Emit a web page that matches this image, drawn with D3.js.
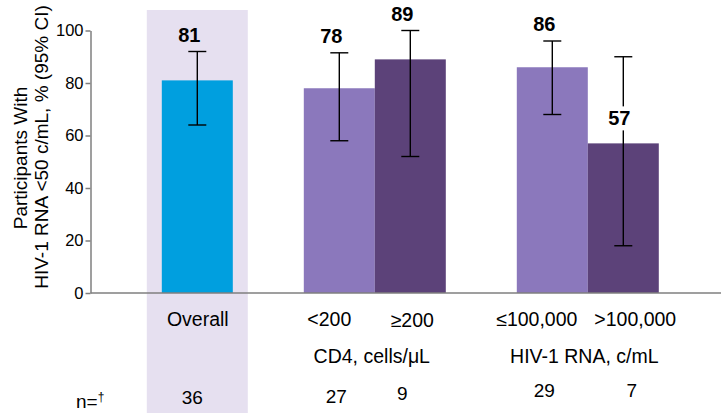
<!DOCTYPE html>
<html>
<head>
<meta charset="utf-8">
<script src="https://cdn.jsdelivr.net/npm/d3@7/dist/d3.min.js"></script>
<style>
  html, body { margin: 0; padding: 0; background: #fff; }
  svg { display: block; font-family: "Liberation Sans", Arial, sans-serif; }
</style>
</head>
<body>
<svg id="chart" width="721" height="413"></svg>
<script>
// Virologic response (<50 c/mL) overall and by baseline subgroup, with 95% CI
const slots = ["Overall", "gapA", "<200", "≥200", "gapB", "≤100,000", ">100,000"];
const categories = ["Overall", "<200", "≥200", "≤100,000", ">100,000"];
const pct = [81, 78, 89, 86, 57];
const ciLow = [64, 58, 52, 68, 18];
const ciHigh = [92, 91.5, 100, 96, 90];
const nCounts = [36, 27, 9, 29, 7];
const groupLabels = ["CD4, cells/μL", "HIV-1 RNA, c/mL"];
const groupMembers = [["<200", "≥200"], ["≤100,000", ">100,000"]];
const yTicks = [0, 20, 40, 60, 80, 100];

const W = 721, H = 413;
const svg = d3.select("#chart");

const x = d3.scaleBand().domain(slots).range([161.8, 658.8]).paddingInner(0).paddingOuter(0);
const y = d3.scaleLinear().domain([0, 100]).range([293, 30.5]);
const bw = x.bandwidth();
const cx = c => x(c) + bw / 2;

const barFill = i => i === 0 ? "#009FDF" : (i % 2 === 1 ? "#8B78BC" : "#5C4279");
const axisGrey = "#7F7F7F";

// shaded column behind the overall result
svg.append("rect")
  .attr("x", x("Overall") - 15)
  .attr("y", y(100) - 20.5)
  .attr("width", bw + 30)
  .attr("height", H - (y(100) - 20.5))
  .attr("fill", "#E6E0F0");

// bars
svg.append("g").selectAll("rect")
  .data(categories)
  .join("rect")
  .attr("x", c => x(c))
  .attr("y", (c, i) => y(pct[i]))
  .attr("width", bw)
  .attr("height", (c, i) => y(0) - y(pct[i]))
  .attr("fill", (c, i) => barFill(i));

// y axis
const yAxis = svg.append("g")
  .attr("transform", "translate(90.5,0)")
  .call(d3.axisLeft(y).tickValues(yTicks).tickSize(5).tickSizeOuter(0).tickPadding(2));
yAxis.select(".domain").attr("stroke", axisGrey).attr("stroke-width", 1.5);
yAxis.selectAll(".tick line").attr("stroke", axisGrey).attr("stroke-width", 1.5);
yAxis.selectAll(".tick text")
  .attr("fill", "#000")
  .style("font-size", "16.5px")
  .style("font-family", "'Liberation Sans', Arial, sans-serif");

// baseline across the full width
svg.append("line")
  .attr("x1", 90.5).attr("x2", W)
  .attr("y1", y(0)).attr("y2", y(0))
  .attr("stroke", axisGrey).attr("stroke-width", 1.5);

// y axis title (two lines)
const titleLines = ["Participants With", "HIV-1 RNA <50 c/mL, % (95% CI)"];
const titleX = [27, 48];
const titleY = [158, 147];
titleLines.forEach((t, i) => {
  svg.append("text")
    .attr("transform", `translate(${titleX[i]},${titleY[i]}) rotate(-90)`)
    .attr("text-anchor", "middle")
    .style("font-size", "19px")
    .attr("fill", "#000")
    .text(t);
});

// error bars
const capHalf = 9;
const err = svg.append("g").attr("stroke", "#000").attr("stroke-width", 1.4);
categories.forEach((c, i) => {
  const xc = cx(c);
  err.append("line").attr("x1", xc).attr("x2", xc).attr("y1", y(ciLow[i])).attr("y2", y(ciHigh[i]));
  err.append("line").attr("x1", xc - capHalf).attr("x2", xc + capHalf).attr("y1", y(ciLow[i])).attr("y2", y(ciLow[i]));
  err.append("line").attr("x1", xc - capHalf).attr("x2", xc + capHalf).attr("y1", y(ciHigh[i])).attr("y2", y(ciHigh[i]));
});

// value labels: above the CI, or tucked inside the CI when the interval is long
const labels = svg.append("g");
categories.forEach((c, i) => {
  const inside = ciHigh[i] - pct[i] > 25;
  const lx = cx(c) + (inside ? -4 : -8);
  const ly = inside ? y(pct[i]) - 18 : y(ciHigh[i]) - 10;
  const t = labels.append("text")
    .attr("x", lx).attr("y", ly)
    .attr("text-anchor", "middle")
    .style("font-size", "20px")
    .style("font-weight", "bold")
    .attr("fill", "#000")
    .text(pct[i]);
  if (inside) {
    const bb = t.node().getBBox();
    labels.insert("rect", "text")
      .attr("x", bb.x - 2).attr("y", bb.y - 1)
      .attr("width", bb.width + 4).attr("height", bb.height + 2)
      .attr("fill", "#fff");
  }
});

// category labels under the bars
const catNudge = { "Overall": 0.5, "<200": -10, "≥200": 2, "≤100,000": -15.5, ">100,000": 12 };
svg.append("g").selectAll("text")
  .data(categories)
  .join("text")
  .attr("x", c => cx(c) + catNudge[c])
  .attr("y", c => c === "≥200" ? 327 : 325.5)
  .attr("text-anchor", "middle")
  .style("font-size", "19.5px")
  .attr("fill", "#000")
  .text(c => c);

// subgroup headings
const groupNudge = [-3, -3.5];
groupLabels.forEach((g, i) => {
  const m = groupMembers[i];
  const gc = (x(m[0]) + x(m[1]) + bw) / 2;
  svg.append("text")
    .attr("x", gc + groupNudge[i])
    .attr("y", 363)
    .attr("text-anchor", "middle")
    .style("font-size", "19.5px")
    .attr("fill", "#000")
    .text(g);
});

// participant counts
const nNudge = { "Overall": -5, "<200": -3, "≥200": -8, "≤100,000": -8, ">100,000": 8.5 };
const nBase = { "Overall": 404, "<200": 403, "≥200": 400, "≤100,000": 397, ">100,000": 397 };
svg.append("g").selectAll("text")
  .data(categories)
  .join("text")
  .attr("x", c => cx(c) + nNudge[c])
  .attr("y", c => nBase[c])
  .attr("text-anchor", "middle")
  .style("font-size", "19px")
  .attr("fill", "#000")
  .text((c, i) => nCounts[i]);

const nLabel = svg.append("text")
  .attr("x", 76).attr("y", 408)
  .style("font-size", "19px")
  .attr("fill", "#000")
  .text("n=");
nLabel.append("tspan")
  .attr("dy", -7)
  .attr("fill", "#000")
  .style("font-size", "12px")
  .text("†");
</script>
</body>
</html>
